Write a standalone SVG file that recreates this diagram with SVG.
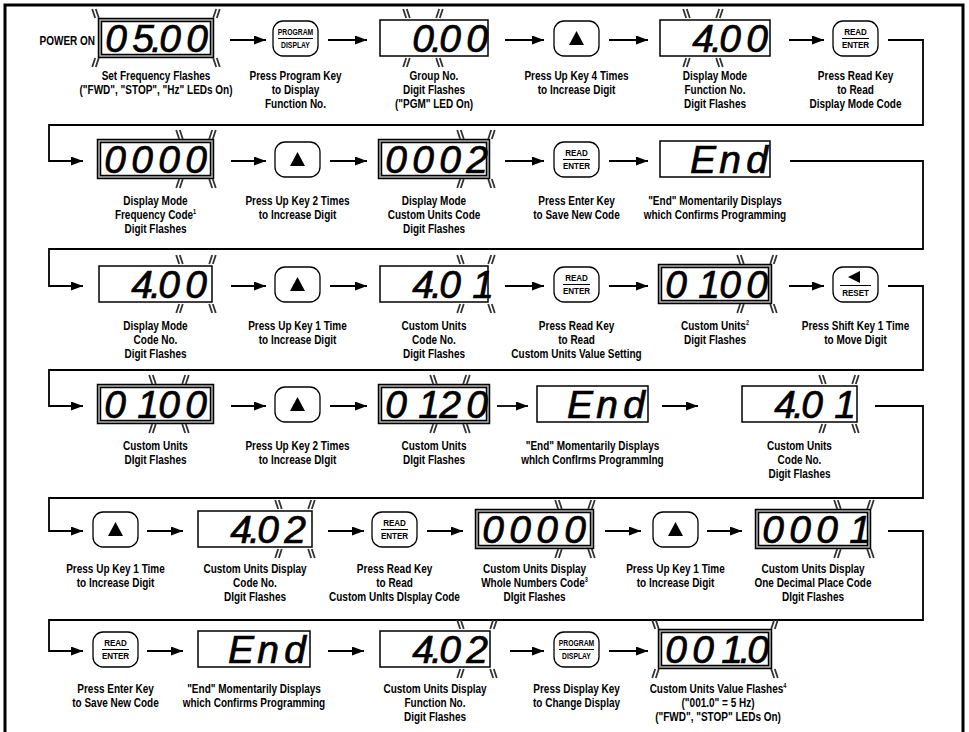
<svg xmlns="http://www.w3.org/2000/svg" width="969" height="732" viewBox="0 0 969 732">
<style>
.lb{font-family:"Liberation Sans",Arial,sans-serif;font-weight:bold;font-size:12.5px;text-anchor:middle;fill:#000;transform-box:fill-box;transform-origin:center;transform:scaleX(0.8)}
.pw{font-family:"Liberation Sans",Arial,sans-serif;font-weight:bold;font-size:12.5px;text-anchor:end;fill:#000;transform-box:fill-box;transform-origin:right center;transform:scaleX(0.8)}
.kt{font-family:"Liberation Sans",Arial,sans-serif;font-weight:bold;font-size:8.5px;text-anchor:middle;fill:#000;transform-box:fill-box;transform-origin:center;transform:scaleX(0.8)}
.kt2{font-family:"Liberation Sans",Arial,sans-serif;font-weight:bold;font-size:9.8px;text-anchor:middle;fill:#000;transform-box:fill-box;transform-origin:center;transform:scaleX(0.82)}
.dg{font-family:"Liberation Sans",Arial,sans-serif;font-size:39px;font-style:italic;text-anchor:middle;fill:#000;stroke:#000;stroke-width:0.7}
.d1{fill:#fff;stroke:#000;stroke-width:1.5}
.d2{fill:#fff;stroke:#000;stroke-width:4.5}
.d2i{fill:none;stroke:#b0b0b0;stroke-width:1.5}
.ky{fill:#fff;stroke:#000;stroke-width:1.3}
.kl{stroke:#000;stroke-width:1}
.mk line{stroke:#333;stroke-width:1.8}
.cn{fill:none;stroke:#000;stroke-width:1.8}
.fr{fill:none;stroke:#000;stroke-width:3}
</style>
<defs>
<marker id="ah" markerUnits="userSpaceOnUse" markerWidth="12" markerHeight="9" refX="12" refY="4.5" orient="auto"><path d="M0,0 L12,4.5 L0,9 z" fill="#000"/></marker>
<g id="mTL" class="mk"><line x1="-1.8" y1="0" x2="-4.8" y2="-9"/><line x1="1.8" y1="0" x2="-1.2" y2="-9"/></g>
<g id="mTR" class="mk"><line x1="1.8" y1="0" x2="4.8" y2="-9"/><line x1="-1.8" y1="0" x2="1.2" y2="-9"/></g>
<g id="mBL" class="mk"><line x1="-1.8" y1="0" x2="-4.8" y2="9"/><line x1="1.8" y1="0" x2="-1.2" y2="9"/></g>
<g id="mBR" class="mk"><line x1="1.8" y1="0" x2="4.8" y2="9"/><line x1="-1.8" y1="0" x2="1.2" y2="9"/></g>
</defs>
<rect width="969" height="732" fill="#fff"/>
<path class="fr" d="M5,732 V5 H963 V732"/>

<g id="connectors">
<line class="cn" x1="230" y1="40" x2="266" y2="40" marker-end="url(#ah)"/>
<line class="cn" x1="328" y1="40" x2="367" y2="40" marker-end="url(#ah)"/>
<line class="cn" x1="505" y1="40" x2="544" y2="40" marker-end="url(#ah)"/>
<line class="cn" x1="609" y1="40" x2="648" y2="40" marker-end="url(#ah)"/>
<line class="cn" x1="789" y1="40" x2="824" y2="40" marker-end="url(#ah)"/>
<path class="cn" d="M888,40 H923 V125 H49 V161 H83" marker-end="url(#ah)"/>
<line class="cn" x1="231" y1="161" x2="266" y2="161" marker-end="url(#ah)"/>
<line class="cn" x1="330" y1="161" x2="367" y2="161" marker-end="url(#ah)"/>
<line class="cn" x1="505" y1="161" x2="544" y2="161" marker-end="url(#ah)"/>
<line class="cn" x1="609" y1="161" x2="648" y2="161" marker-end="url(#ah)"/>
<path class="cn" d="M790,161 H923 V249 H49 V286 H83" marker-end="url(#ah)"/>
<line class="cn" x1="231" y1="286" x2="266" y2="286" marker-end="url(#ah)"/>
<line class="cn" x1="330" y1="286" x2="367" y2="286" marker-end="url(#ah)"/>
<line class="cn" x1="505" y1="286" x2="544" y2="286" marker-end="url(#ah)"/>
<line class="cn" x1="609" y1="286" x2="648" y2="286" marker-end="url(#ah)"/>
<line class="cn" x1="789" y1="286" x2="824" y2="286" marker-end="url(#ah)"/>
<path class="cn" d="M888,286 H923 V370 H49 V406 H83" marker-end="url(#ah)"/>
<line class="cn" x1="231" y1="406" x2="266" y2="406" marker-end="url(#ah)"/>
<line class="cn" x1="330" y1="406" x2="367" y2="406" marker-end="url(#ah)"/>
<line class="cn" x1="497" y1="406" x2="528" y2="406" marker-end="url(#ah)"/>
<line class="cn" x1="662" y1="406" x2="698" y2="406" marker-end="url(#ah)"/>
<path class="cn" d="M875,406 H923 V498 H49 V531 H83" marker-end="url(#ah)"/>
<line class="cn" x1="147" y1="531" x2="183" y2="531" marker-end="url(#ah)"/>
<line class="cn" x1="328" y1="531" x2="364" y2="531" marker-end="url(#ah)"/>
<line class="cn" x1="427" y1="531" x2="463" y2="531" marker-end="url(#ah)"/>
<line class="cn" x1="605" y1="531" x2="641" y2="531" marker-end="url(#ah)"/>
<line class="cn" x1="707" y1="531" x2="742" y2="531" marker-end="url(#ah)"/>
<path class="cn" d="M888,531 H923 V620 H49 V651 H83" marker-end="url(#ah)"/>
<line class="cn" x1="147" y1="651" x2="183" y2="651" marker-end="url(#ah)"/>
<line class="cn" x1="328" y1="651" x2="364" y2="651" marker-end="url(#ah)"/>
<line class="cn" x1="510" y1="651" x2="544" y2="651" marker-end="url(#ah)"/>
<line class="cn" x1="609" y1="651" x2="648" y2="651" marker-end="url(#ah)"/>
</g>

<!-- Row 1 -->
<g id="power-on"><text class="pw" x="95" y="45">POWER ON</text></g>
<g id="disp-A">
<rect class="d2" x="100" y="20" width="112" height="36"/><rect class="d2i" x="100" y="20" width="112" height="36"/>
<text class="dg" x="116 143 156.5 170 197" y="52">05.00</text>
<use href="#mTL" x="97" y="18"/><use href="#mTR" x="215" y="18"/><use href="#mBL" x="97" y="58"/><use href="#mBR" x="215" y="58"/>
<text class="lb" x="156" y="80">Set Frequency Flashes</text>
<text class="lb" x="156" y="94">("FWD", "STOP", "Hz" LEDs On)</text>
</g>
<g id="key-prog-1">
<rect class="ky" x="273" y="21" width="45" height="35" rx="10"/>
<text class="kt" x="295.5" y="35">PROGRAM</text><line class="kl" x1="278" y1="38.5" x2="313" y2="38.5"/><text class="kt" x="295.5" y="48">DISPLAY</text>
<text class="lb" x="295.5" y="80">Press Program Key</text>
<text class="lb" x="295.5" y="94">to Display</text>
<text class="lb" x="295.5" y="108">Function No.</text>
</g>
<g id="disp-B">
<rect class="d1" x="380" y="20" width="108" height="36"/>
<text class="dg" x="423 436.5 450 477" y="52">0.00</text>
<use href="#mTL" x="408" y="18"/><use href="#mTR" x="438" y="18"/><use href="#mBL" x="408" y="58"/><use href="#mBR" x="438" y="58"/>
<text class="lb" x="434" y="80">Group No.</text>
<text class="lb" x="434" y="94">Digit Flashes</text>
<text class="lb" x="434" y="108">("PGM" LED On)</text>
</g>
<g id="key-up-1">
<rect class="ky" x="554" y="21" width="45" height="35" rx="10"/>
<polygon points="576.5,31 569,45 584,45" fill="#000"/>
<text class="lb" x="576.5" y="80">Press Up Key 4 Times</text>
<text class="lb" x="576.5" y="94">to Increase Digit</text>
</g>
<g id="disp-C">
<rect class="d1" x="660" y="20" width="110" height="36"/>
<text class="dg" x="703 716.5 730 757" y="52">4.00</text>
<use href="#mTL" x="688" y="18"/><use href="#mTR" x="718" y="18"/><use href="#mBL" x="688" y="58"/><use href="#mBR" x="718" y="58"/>
<text class="lb" x="715" y="80">Display Mode</text>
<text class="lb" x="715" y="94">Function No.</text>
<text class="lb" x="715" y="108">Digit Flashes</text>
</g>
<g id="key-read-1">
<rect class="ky" x="833" y="21" width="45" height="35" rx="10"/>
<text class="kt2" x="855.5" y="35">READ</text><line class="kl" x1="842" y1="38.5" x2="869" y2="38.5"/><text class="kt2" x="855.5" y="48.5">ENTER</text>
<text class="lb" x="855.5" y="80">Press Read Key</text>
<text class="lb" x="855.5" y="94">to Read</text>
<text class="lb" x="855.5" y="108">Display Mode Code</text>
</g>

<!-- Row 2 -->
<g id="disp-D">
<rect class="d2" x="99" y="141" width="113" height="36"/><rect class="d2i" x="99" y="141" width="113" height="36"/>
<text class="dg" x="115 142 169 196" y="173">0000</text>
<use href="#mTL" x="181" y="139"/><use href="#mTR" x="211" y="139"/><use href="#mBL" x="181" y="179"/><use href="#mBR" x="211" y="179"/>
<text class="lb" x="155.5" y="205.5">Display Mode</text>
<text class="lb" x="155.5" y="219.5">Frequency Code<tspan font-size="7" dy="-5">1</tspan></text>
<text class="lb" x="155.5" y="233.5">Digit Flashes</text>
</g>
<g id="key-up-2">
<rect class="ky" x="275" y="142" width="45" height="35" rx="10"/>
<polygon points="297.5,152 290,166 305,166" fill="#000"/>
<text class="lb" x="297.5" y="205.5">Press Up Key 2 Times</text>
<text class="lb" x="297.5" y="219.5">to Increase Digit</text>
</g>
<g id="disp-E">
<rect class="d2" x="380" y="141" width="108" height="36"/><rect class="d2i" x="380" y="141" width="108" height="36"/>
<text class="dg" x="396 423 450 477" y="173">0002</text>
<use href="#mTL" x="462" y="139"/><use href="#mTR" x="490" y="139"/><use href="#mBL" x="462" y="179"/><use href="#mBR" x="490" y="179"/>
<text class="lb" x="434" y="205.5">Display Mode</text>
<text class="lb" x="434" y="219.5">Custom Units Code</text>
<text class="lb" x="434" y="233.5">Digit Flashes</text>
</g>
<g id="key-read-2">
<rect class="ky" x="554" y="142" width="45" height="35" rx="10"/>
<text class="kt2" x="576.5" y="156">READ</text><line class="kl" x1="563" y1="159.5" x2="590" y2="159.5"/><text class="kt2" x="576.5" y="169.5">ENTER</text>
<text class="lb" x="576.5" y="205.5">Press Enter Key</text>
<text class="lb" x="576.5" y="219.5">to Save New Code</text>
</g>
<g id="disp-F">
<rect class="d1" x="660" y="141" width="110" height="36"/>
<text class="dg" x="703 730 757" y="173">End</text>
<text class="lb" x="715" y="205.5">"End" Momentarily Displays</text>
<text class="lb" x="715" y="219.5">which Confirms Programming</text>
</g>

<!-- Row 3 -->
<g id="disp-G">
<rect class="d1" x="99" y="266" width="113" height="36"/>
<text class="dg" x="142 155.5 169 196" y="298">4.00</text>
<use href="#mTL" x="181" y="264"/><use href="#mTR" x="211" y="264"/><use href="#mBL" x="181" y="304"/><use href="#mBR" x="211" y="304"/>
<text class="lb" x="155.5" y="330.5">Display Mode</text>
<text class="lb" x="155.5" y="344.5">Code No.</text>
<text class="lb" x="155.5" y="358.5">Digit Flashes</text>
</g>
<g id="key-up-3">
<rect class="ky" x="275" y="267" width="45" height="35" rx="10"/>
<polygon points="297.5,277 290,291 305,291" fill="#000"/>
<text class="lb" x="297.5" y="330.5">Press Up Key 1 Time</text>
<text class="lb" x="297.5" y="344.5">to Increase Digit</text>
</g>
<g id="disp-H">
<rect class="d1" x="380" y="266" width="108" height="36"/>
<text class="dg" x="423 436.5 450 483" y="298">4.01</text>
<use href="#mTL" x="462" y="264"/><use href="#mTR" x="490" y="264"/><use href="#mBL" x="462" y="304"/><use href="#mBR" x="490" y="304"/>
<text class="lb" x="434" y="330.5">Custom Units</text>
<text class="lb" x="434" y="344.5">Code No.</text>
<text class="lb" x="434" y="358.5">Digit Flashes</text>
</g>
<g id="key-read-3">
<rect class="ky" x="554" y="267" width="45" height="35" rx="10"/>
<text class="kt2" x="576.5" y="281">READ</text><line class="kl" x1="563" y1="284.5" x2="590" y2="284.5"/><text class="kt2" x="576.5" y="294.5">ENTER</text>
<text class="lb" x="576.5" y="330.5">Press Read Key</text>
<text class="lb" x="576.5" y="344.5">to Read</text>
<text class="lb" x="576.5" y="358.5">Custom Units Value Setting</text>
</g>
<g id="disp-I">
<rect class="d2" x="660" y="266" width="110" height="36"/><rect class="d2i" x="660" y="266" width="110" height="36"/>
<text class="dg" x="676 709 730 757" y="298">0100</text>
<use href="#mTL" x="742" y="264"/><use href="#mTR" x="772" y="264"/><use href="#mBL" x="742" y="304"/><use href="#mBR" x="772" y="304"/>
<text class="lb" x="715" y="330.5">Custom Units<tspan font-size="7" dy="-5">2</tspan></text>
<text class="lb" x="715" y="344.5">Digit Flashes</text>
</g>
<g id="key-shift-3">
<rect class="ky" x="833" y="267" width="45" height="35" rx="10"/>
<polygon points="848,277 860,271 860,283" fill="#000"/>
<line class="kl" x1="840" y1="285.5" x2="871" y2="285.5"/><text class="kt2" x="855.5" y="296.5">RESET</text>
<text class="lb" x="855.5" y="330.5">Press Shift Key 1 Time</text>
<text class="lb" x="855.5" y="344.5">to Move Digit</text>
</g>

<!-- Row 4 -->
<g id="disp-J">
<rect class="d2" x="99" y="386" width="113" height="36"/><rect class="d2i" x="99" y="386" width="113" height="36"/>
<text class="dg" x="115 148 169 196" y="418">0100</text>
<use href="#mTL" x="154" y="384"/><use href="#mTR" x="184" y="384"/><use href="#mBL" x="154" y="424"/><use href="#mBR" x="184" y="424"/>
<text class="lb" x="155.5" y="450.5">Custom Units</text>
<text class="lb" x="155.5" y="464.5">DIgit Flashes</text>
</g>
<g id="key-up-4">
<rect class="ky" x="275" y="387" width="45" height="35" rx="10"/>
<polygon points="297.5,397 290,411 305,411" fill="#000"/>
<text class="lb" x="297.5" y="450.5">Press Up Key 2 Times</text>
<text class="lb" x="297.5" y="464.5">to Increase DIgit</text>
</g>
<g id="disp-K">
<rect class="d2" x="380" y="386" width="108" height="36"/><rect class="d2i" x="380" y="386" width="108" height="36"/>
<text class="dg" x="396 429 450 477" y="418">0120</text>
<use href="#mTL" x="435" y="384"/><use href="#mTR" x="465" y="384"/><use href="#mBL" x="435" y="424"/><use href="#mBR" x="465" y="424"/>
<text class="lb" x="434" y="450.5">Custom Units</text>
<text class="lb" x="434" y="464.5">DIgit Flashes</text>
</g>
<g id="disp-L">
<rect class="d1" x="537" y="386" width="111" height="36"/>
<text class="dg" x="580 607 634" y="418">End</text>
<text class="lb" x="592.5" y="450.5">"End" Momentarily Displays</text>
<text class="lb" x="592.5" y="464.5">whIch ConfIrms ProgrammIng</text>
</g>
<g id="disp-M">
<rect class="d1" x="742" y="386" width="115" height="36"/>
<text class="dg" x="785 798.5 812 845" y="418">4.01</text>
<use href="#mTL" x="824" y="384"/><use href="#mTR" x="854" y="384"/><use href="#mBL" x="824" y="424"/><use href="#mBR" x="854" y="424"/>
<text class="lb" x="799.5" y="450.5">Custom Units</text>
<text class="lb" x="799.5" y="464.5">Code No.</text>
<text class="lb" x="799.5" y="478.5">Digit Flashes</text>
</g>

<!-- Row 5 -->
<g id="key-up-5a">
<rect class="ky" x="93" y="512" width="45" height="35" rx="10"/>
<polygon points="115.5,522 108,536 123,536" fill="#000"/>
<text class="lb" x="115.5" y="573.5">Press Up Key 1 Time</text>
<text class="lb" x="115.5" y="587.5">to Increase Digit</text>
</g>
<g id="disp-N">
<rect class="d1" x="198" y="511" width="114" height="36"/>
<text class="dg" x="241 254.5 268 295" y="543">4.02</text>
<use href="#mTL" x="280" y="509"/><use href="#mTR" x="310" y="509"/><use href="#mBL" x="280" y="549"/><use href="#mBR" x="310" y="549"/>
<text class="lb" x="255" y="573.5">Custom Units Display</text>
<text class="lb" x="255" y="587.5">Code No.</text>
<text class="lb" x="255" y="601.5">DIgit Flashes</text>
</g>
<g id="key-read-5">
<rect class="ky" x="372" y="512" width="45" height="35" rx="10"/>
<text class="kt2" x="394.5" y="526">READ</text><line class="kl" x1="381" y1="529.5" x2="408" y2="529.5"/><text class="kt2" x="394.5" y="539.5">ENTER</text>
<text class="lb" x="394.5" y="573.5">Press Read Key</text>
<text class="lb" x="394.5" y="587.5">to Read</text>
<text class="lb" x="394.5" y="601.5">Custom UnIts DIsplay Code</text>
</g>
<g id="disp-O">
<rect class="d2" x="477" y="511" width="115" height="36"/><rect class="d2i" x="477" y="511" width="115" height="36"/>
<text class="dg" x="493 520 547 575" y="543">0000</text>
<use href="#mTL" x="560" y="509"/><use href="#mTR" x="590" y="509"/><use href="#mBL" x="560" y="549"/><use href="#mBR" x="590" y="549"/>
<text class="lb" x="534.5" y="573.5">Custom Units Display</text>
<text class="lb" x="534.5" y="587.5">Whole Numbers Code<tspan font-size="7" dy="-5">3</tspan></text>
<text class="lb" x="534.5" y="601.5">DIgit Flashes</text>
</g>
<g id="key-up-5b">
<rect class="ky" x="653" y="512" width="45" height="35" rx="10"/>
<polygon points="675.5,522 668,536 683,536" fill="#000"/>
<text class="lb" x="675.5" y="573.5">Press Up Key 1 Time</text>
<text class="lb" x="675.5" y="587.5">to Increase Digit</text>
</g>
<g id="disp-P">
<rect class="d2" x="757" y="511" width="112" height="36"/><rect class="d2i" x="757" y="511" width="112" height="36"/>
<text class="dg" x="773 800 827 860" y="543">0001</text>
<use href="#mTL" x="839" y="509"/><use href="#mTR" x="869" y="509"/><use href="#mBL" x="839" y="549"/><use href="#mBR" x="869" y="549"/>
<text class="lb" x="813" y="573.5">Custom Units Display</text>
<text class="lb" x="813" y="587.5">One Decimal Place Code</text>
<text class="lb" x="813" y="601.5">DIgit Flashes</text>
</g>

<!-- Row 6 -->
<g id="key-read-6">
<rect class="ky" x="93" y="632" width="45" height="35" rx="10"/>
<text class="kt2" x="115.5" y="646">READ</text><line class="kl" x1="102" y1="649.5" x2="129" y2="649.5"/><text class="kt2" x="115.5" y="659.5">ENTER</text>
<text class="lb" x="115.5" y="693.5">Press Enter Key</text>
<text class="lb" x="115.5" y="707.5">to Save New Code</text>
</g>
<g id="disp-Q">
<rect class="d1" x="198" y="631" width="112" height="36"/>
<text class="dg" x="241 268 295" y="663">End</text>
<text class="lb" x="254" y="693.5">"End" Momentarily Displays</text>
<text class="lb" x="254" y="707.5">which Confirms Programming</text>
</g>
<g id="disp-R">
<rect class="d1" x="380" y="631" width="110" height="36"/>
<text class="dg" x="423 436.5 450 477" y="663">4.02</text>
<use href="#mTL" x="462" y="629"/><use href="#mTR" x="492" y="629"/><use href="#mBL" x="462" y="669"/><use href="#mBR" x="492" y="669"/>
<text class="lb" x="435" y="693.5">Custom Units Display</text>
<text class="lb" x="435" y="707.5">Function No.</text>
<text class="lb" x="435" y="721.5">Digit Flashes</text>
</g>
<g id="key-prog-6">
<rect class="ky" x="554" y="632" width="45" height="35" rx="10"/>
<text class="kt" x="576.5" y="646">PROGRAM</text><line class="kl" x1="559" y1="649.5" x2="594" y2="649.5"/><text class="kt" x="576.5" y="659">DISPLAY</text>
<text class="lb" x="576.5" y="693.5">Press Display Key</text>
<text class="lb" x="576.5" y="707.5">to Change Display</text>
</g>
<g id="disp-S">
<rect class="d2" x="660" y="631" width="110" height="36"/><rect class="d2i" x="660" y="631" width="110" height="36"/>
<text class="dg" x="676 703 732 745 758" y="663">001.0</text>
<use href="#mTL" x="657" y="629"/><use href="#mTR" x="773" y="629"/><use href="#mBL" x="657" y="669"/><use href="#mBR" x="773" y="669"/>
<text class="lb" x="718" y="693.5">Custom Units Value Flashes<tspan font-size="7" dy="-5">4</tspan></text>
<text class="lb" x="718" y="707.5">("001.0" = 5 Hz)</text>
<text class="lb" x="718" y="721.5">("FWD", "STOP" LEDs On)</text>
</g>
</svg>
